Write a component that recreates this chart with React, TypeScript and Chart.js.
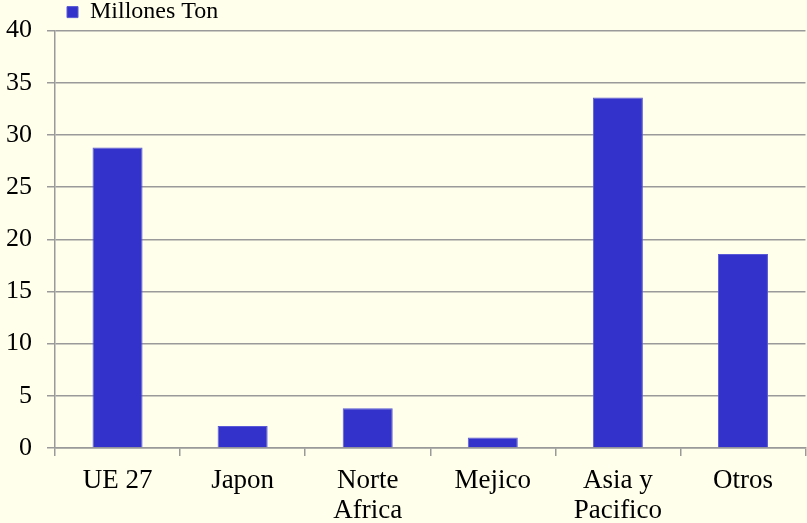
import React, { useEffect, useRef } from "react";
import { Chart, registerables } from "chart.js";

Chart.register(...registerables);

const categories: (string | string[])[] = [
  "UE 27",
  "Japon",
  ["Norte", "Africa"],
  "Mejico",
  ["Asia y", "Pacifico"],
  "Otros",
];
const seriesLabel = "Millones Ton";
const seriesValues = [28.8, 2.1, 3.8, 1.0, 33.6, 18.6];
const yMin = 0;
const yMax = 40;
const yStep = 5;

const BG = "#FFFFEB";
const GRID = "#9a9a9a";
const FONT = "'Liberation Serif', 'Times New Roman', serif";

const legendNudge = {
  id: "legendNudge",
  afterLayout(chart: any) {
    if (chart.legend) chart.legend.top += 3.5;
  },
};

export default function App() {
  const ref = useRef<HTMLCanvasElement | null>(null);

  useEffect(() => {
    if (!ref.current) return;
    const chart = new Chart(ref.current, {
      type: "bar",
      data: {
        labels: categories,
        datasets: [
          {
            label: seriesLabel,
            data: seriesValues,
            backgroundColor: "#3333CC",
            borderColor: "#5a5ad6",
            borderWidth: 1,
            categoryPercentage: 1,
            barPercentage: 0.4,
          },
        ],
      },
      options: {
        animation: false,
        responsive: false,
        devicePixelRatio: 1,
        layout: { padding: { top: -16.5, left: 0, right: 1.5, bottom: 0 } },
        plugins: {
          tooltip: { enabled: false },
          legend: {
            display: true,
            position: "top",
            align: "start",
            fullSize: false,
            labels: {
              boxWidth: 11,
              boxHeight: 11,
              padding: 12,
              color: "#000",
              font: { family: FONT, size: 24 },
            },
          },
        },
        scales: {
          x: {
            afterFit: (s: any) => {
              s.height = 75;
            },
            grid: {
              display: true,
              drawOnChartArea: false,
              drawTicks: true,
              tickLength: 8,
              offset: true,
              color: GRID,
              lineWidth: 1.5,
            },
            border: { display: true, color: GRID, width: 1.5 },
            ticks: {
              color: "#000",
              padding: 10,
              maxRotation: 0,
              autoSkip: false,
              font: { family: FONT, size: 27, lineHeight: 1.1 },
            },
          },
          y: {
            min: yMin,
            max: yMax,
            afterFit: (s: any) => {
              s.width = 55;
            },
            grid: {
              color: GRID,
              lineWidth: 1.5,
              tickLength: 8,
              drawTicks: true,
            },
            border: { display: true, color: GRID, width: 1.5 },
            ticks: {
              stepSize: yStep,
              color: "#000",
              padding: 15,
              font: { family: FONT, size: 26 },
            },
          },
        },
      },
      plugins: [legendNudge],
    });
    return () => chart.destroy();
  }, []);

  return (
    <div
      style={{
        position: "absolute",
        left: 0,
        top: 0,
        width: 807,
        height: 523,
        background: BG,
      }}
    >
      <canvas ref={ref} width={807} height={523} style={{ display: "block" }} />
    </div>
  );
}
